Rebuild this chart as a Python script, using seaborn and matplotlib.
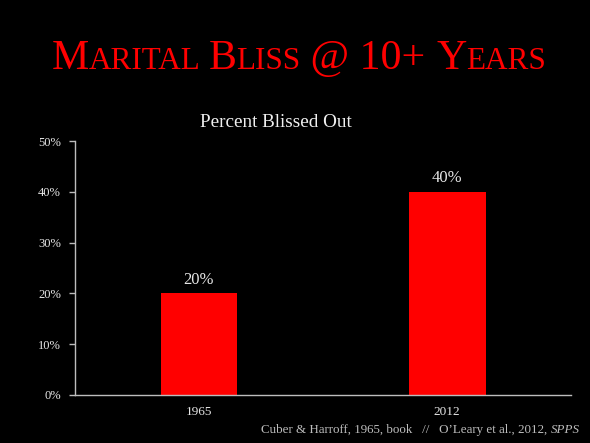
import matplotlib
matplotlib.use("Agg")
import matplotlib.pyplot as plt
import seaborn as sns
import pandas as pd

# data
years = ["1965", "2012"]
blissed = [20, 40]
y_ticks = [0, 10, 20, 30, 40, 50]

df = pd.DataFrame({"year": years, "pct": blissed})

sns.set_style("dark")
plt.rcParams["font.family"] = ["Liberation Serif", "DejaVu Serif"]

fig = plt.figure(figsize=(5.9, 4.43), dpi=100, facecolor="black")
ax = fig.add_axes([0.127, 0.1084, 0.841, 0.5733])
ax.set_facecolor("black")

sns.barplot(data=df, x="year", y="pct", color="#ff0000", saturation=1,
            width=0.31, linewidth=0, ax=ax)

ax.set_ylim(0, 50)
ax.set_yticks(y_ticks)
ax.set_yticklabels([f"{t}%" for t in y_ticks])
ax.set_xlabel("")
ax.set_ylabel("")
ax.grid(False)
for s in ["top", "right"]:
    ax.spines[s].set_visible(False)
for s in ["left", "bottom"]:
    ax.spines[s].set_visible(True)
    ax.spines[s].set_color("#bdbdbd")
    ax.spines[s].set_linewidth(1)
ax.tick_params(axis="y", colors="#bdbdbd", length=4, width=1, labelsize=9,
               labelcolor="#e6e6e6", pad=6, left=True)
ax.tick_params(axis="x", length=0, labelsize=9.5, labelcolor="#e6e6e6", pad=8)

for i, v in enumerate(blissed):
    ax.annotate(f"{v}%", (i, v), xytext=(0, 4), textcoords="offset points",
                ha="center", va="bottom", color="#e6e6e6", fontsize=12)

# small caps title, built piece by piece
big, small = 30.2, 22.4
pieces = [("M", big), ("ARITAL", small), (" ", small), ("B", big),
          ("LISS", small), (" @ 10+ ", big), ("Y", big), ("EARS", small)]
renderer = fig.canvas.get_renderer()
texts = []
for s, size in pieces:
    t = fig.text(0, 0.8436, s, fontsize=size, color="#ff0000", va="baseline",
                 ha="left")
    texts.append(t)
widths = [t.get_window_extent(renderer).width for t in texts]
x = 299 - sum(widths) / 2
for t, w in zip(texts, widths):
    t.set_x(x / 590)
    x += w

fig.text(0.468, 0.7133, "Percent Blissed Out", fontsize=13.8,
         color="#f0f0f0", ha="center", va="baseline")

# footnote, italic journal name at the end
sp = fig.text(0.983, 0.0226, "SPPS", fontsize=9.4, style="italic",
              color="#bdbdbd", ha="right", va="baseline")
w = sp.get_window_extent(renderer).width
fig.text(0.983 - w / 590, 0.0226,
         "Cuber & Harroff, 1965, book   //   O\u2019Leary et al., 2012, ",
         fontsize=9.4, color="#bdbdbd", ha="right", va="baseline")

fig.savefig("out.png", dpi=100, facecolor="black")
